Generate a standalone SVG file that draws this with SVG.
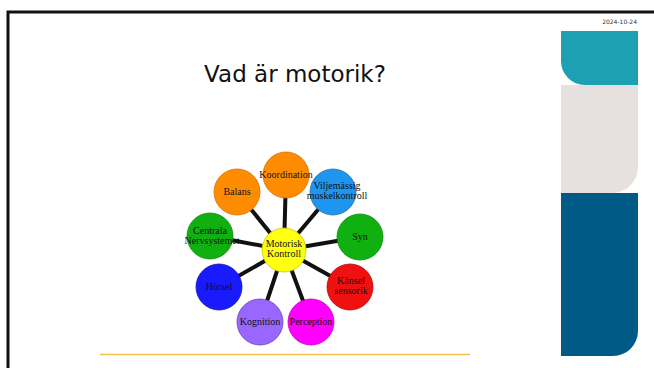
<svg xmlns="http://www.w3.org/2000/svg" width="654" height="368" viewBox="0 0 654 368">
<style>
.lbl{font-family:"Liberation Serif",serif;font-size:10px;fill:#111;text-anchor:middle}
.n{stroke-width:0.8}
.c{stroke:#111;stroke-width:4;stroke-linecap:butt}
</style>
<rect width="654" height="368" fill="#fff"/>
<path d="M8 368 V12 H654" fill="none" stroke="#111" stroke-width="3"/>
<text x="637" y="24" font-family="DejaVu Sans, sans-serif" font-size="6" fill="#333" text-anchor="end">2024-10-24</text>
<path d="M561 31 H638 V85 H585 A24 24 0 0 1 561 61 Z" fill="#1da0b2"/>
<path d="M561 85 H638 V167 A26 26 0 0 1 612 193 H561 Z" fill="#e6e1df"/>
<path d="M561 193 H638 V331 A25 25 0 0 1 613 356 H561 Z" fill="#005a87"/>
<text x="295" y="82" font-family="DejaVu Sans, sans-serif" font-size="23" fill="#111" text-anchor="middle">Vad är motorik?</text>
<line x1="100" y1="354.5" x2="470" y2="354.5" stroke="#f0c048" stroke-width="1.5"/>
<g id="connectors">
<line class="c" x1="284" y1="250" x2="286" y2="175"/>
<line class="c" x1="284" y1="250" x2="237" y2="192"/>
<line class="c" x1="284" y1="250" x2="333" y2="192"/>
<line class="c" x1="284" y1="250" x2="360" y2="237"/>
<line class="c" x1="284" y1="250" x2="210" y2="236"/>
<line class="c" x1="284" y1="250" x2="219" y2="287"/>
<line class="c" x1="284" y1="250" x2="350" y2="287"/>
<line class="c" x1="284" y1="250" x2="260" y2="322"/>
<line class="c" x1="284" y1="250" x2="311" y2="322"/>
</g>
<g id="koordination"><circle class="n" cx="286" cy="175" r="23" fill="#ff8c00" stroke="#d07000"/><text class="lbl" x="286" y="178">Koordination</text></g>
<g id="balans"><circle class="n" cx="237" cy="192" r="23" fill="#ff8c00" stroke="#d07000"/><text class="lbl" x="237" y="195">Balans</text></g>
<g id="viljemassig"><circle class="n" cx="333" cy="192" r="23" fill="#1e96f0" stroke="#3a6a9a"/><text class="lbl" x="337" y="189">Viljemässig</text><text class="lbl" x="337" y="199">muskelkontroll</text></g>
<g id="syn"><circle class="n" cx="360" cy="237" r="23" fill="#10b010" stroke="#0a8a0a"/><text class="lbl" x="360" y="240">Syn</text></g>
<g id="centrala"><circle class="n" cx="210" cy="236" r="23" fill="#10b010" stroke="#0a8a0a"/><text class="lbl" x="210" y="234">Centrala</text><text class="lbl" x="212" y="244">Nervsystemet</text></g>
<g id="horsel"><circle class="n" cx="219" cy="287" r="23" fill="#1a1aff" stroke="#1010b0"/><text class="lbl" x="219" y="290">Hörsel</text></g>
<g id="kansel"><circle class="n" cx="350" cy="287" r="23" fill="#f01010" stroke="#b00a0a"/><text class="lbl" x="351" y="284">Känsel</text><text class="lbl" x="351" y="294">sensorik</text></g>
<g id="kognition"><circle class="n" cx="260" cy="322" r="23" fill="#9966ff" stroke="#6a40c0"/><text class="lbl" x="260" y="325">Kognition</text></g>
<g id="perception"><circle class="n" cx="311" cy="322" r="23" fill="#ff00ff" stroke="#c000c0"/><text class="lbl" x="311" y="325">Perception</text></g>
<g id="motorisk"><circle class="n" cx="284" cy="250" r="22" fill="#ffff10" stroke="#c8c800"/><text class="lbl" x="284" y="247">Motorisk</text><text class="lbl" x="284" y="257">Kontroll</text></g>
</svg>
